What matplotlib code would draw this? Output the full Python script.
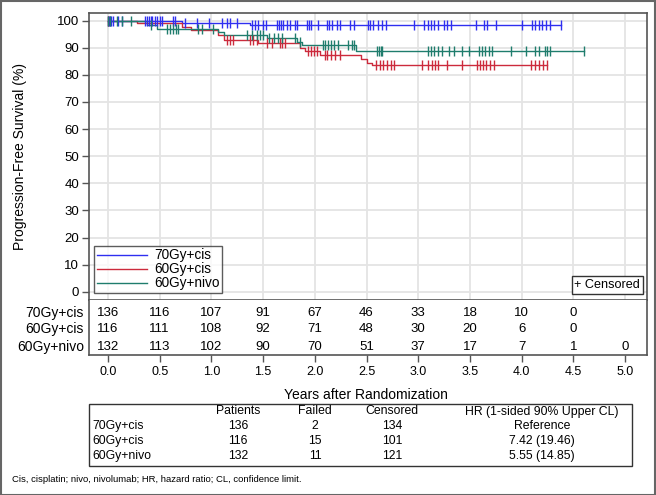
import numpy as np
import matplotlib
matplotlib.use("Agg")
import matplotlib.pyplot as plt
from matplotlib.lines import Line2D
from matplotlib.patches import Rectangle

plt.rcParams['font.family'] = ['Liberation Sans', 'DejaVu Sans']

# ---------------- data ----------------
arms = ["70Gy+cis", "60Gy+cis", "60Gy+nivo"]
colors = ["#2f2ff0", "#cc2a3c", "#1f7d6d"]

# KM step curves (years, % PFS)
t70 = [0, 0.72, 1.37]
s70 = [100, 99.2, 98.4]
end70 = 4.38
c70 = [0.00, 0.01, 0.02, 0.03, 0.05, 0.10, 0.14, 0.36, 0.38, 0.40, 0.42, 0.43, 0.45, 0.47,
       0.50, 0.52, 0.63, 0.65, 0.74, 0.86, 0.98, 1.10, 1.15, 1.18, 1.25, 1.39, 1.42, 1.45,
       1.50, 1.53, 1.63, 1.65, 1.67, 1.69, 1.73, 1.76, 1.81, 1.83, 1.92, 1.94, 1.96, 2.03,
       2.12, 2.14, 2.17, 2.21, 2.24, 2.34, 2.38, 2.51, 2.53, 2.56, 2.61, 2.65, 2.69, 2.96,
       3.06, 3.09, 3.12, 3.15, 3.19, 3.25, 3.28, 3.32, 3.56, 3.64, 3.67, 3.75, 4.00, 4.10,
       4.13, 4.17, 4.20, 4.24, 4.27, 4.38]

t60 = [0, 0.28, 0.72, 0.80, 1.06, 1.12, 1.45, 1.86, 1.91, 2.05, 2.45, 2.50, 2.55]
s60 = [100, 99.1, 97.5, 96.6, 94.8, 92.8, 91.8, 89.9, 89.0, 87.5, 86.0, 84.5, 83.6]
end60 = 4.25
c60 = [0.00, 1.15, 1.18, 1.21, 1.37, 1.40, 1.44, 1.54, 1.59, 1.66, 1.68, 1.71, 1.93, 1.96,
       1.99, 2.02, 2.10, 2.12, 2.16, 2.20, 2.24, 2.59, 2.63, 2.66, 2.70, 2.74, 2.77, 3.04,
       3.09, 3.13, 3.16, 3.19, 3.28, 3.42, 3.57, 3.60, 3.63, 3.66, 3.69, 3.73, 4.09, 4.13,
       4.17, 4.21, 4.25]

tnv = [0, 0.38, 0.47, 1.06, 1.12, 1.54, 1.83, 1.88, 2.40]
snv = [100, 98.5, 97.0, 95.9, 94.8, 93.5, 92.2, 91.0, 88.8]
endnv = 4.60
cnv = [0.00, 0.02, 0.09, 0.14, 0.22, 0.42, 0.57, 0.60, 0.63, 0.66, 0.68, 0.87, 0.91, 1.02,
       1.34, 1.39, 1.44, 1.47, 1.50, 1.56, 1.61, 1.64, 1.68, 1.81, 1.86, 2.08, 2.10, 2.13,
       2.16, 2.19, 2.22, 2.32, 2.36, 2.38, 2.60, 2.62, 2.64, 2.65, 3.09, 3.12, 3.15, 3.19,
       3.23, 3.30, 3.35, 3.42, 3.49, 3.59, 3.62, 3.65, 3.68, 3.71, 3.90, 4.04, 4.13, 4.17,
       4.23, 4.25, 4.27, 4.60]

# numbers at risk
risk_times = [0.0, 0.5, 1.0, 1.5, 2.0, 2.5, 3.0, 3.5, 4.0, 4.5, 5.0]
risk70 = [136, 116, 107, 91, 67, 46, 33, 18, 10, 0]
risk60 = [116, 111, 108, 92, 71, 48, 30, 20, 6, 0]
risknv = [132, 113, 102, 90, 70, 51, 37, 17, 7, 1, 0]

# summary table
tbl_header = ["Patients", "Failed", "Censored", "HR (1-sided 90% Upper CL)"]
tbl_patients = [136, 116, 132]
tbl_failed = [2, 15, 11]
tbl_censored = [134, 101, 121]
tbl_hr = ["Reference", "7.42 (19.46)", "5.55 (14.85)"]

footnote = "Cis, cisplatin; nivo, nivolumab; HR, hazard ratio; CL, confidence limit."

# ---------------- figure ----------------
W, H = 656, 495
fig = plt.figure(figsize=(W / 100, H / 100), dpi=100)

def fx(px):
    return px / W

def fy(py):
    return 1 - py / H

L, R, T, SEP, B = 89, 647, 13, 300, 355
ax = fig.add_axes([fx(L), fy(SEP), fx(R - L), (SEP - T) / H])
rax = fig.add_axes([fx(L), fy(B), fx(R - L), (B - SEP) / H], sharex=ax)

x0 = 108; xpy = 103.4
xmin = (L - x0) / xpy
xmax = (R - x0) / xpy
y100, y0 = 20.7, 291.7
ppp = (y0 - y100) / 100
ymax = 100 + (y100 - T) / ppp
ymin = -(SEP - y0) / ppp

spine_c = "#555555"
grid_c = "#e4e4e4"

ax.set_xlim(xmin, xmax)
ax.set_ylim(ymin, ymax)
ax.set_xticks(risk_times)
ax.set_yticks(np.arange(0, 101, 10))
ax.grid(True, color=grid_c, lw=1.3, zorder=0)
ax.set_axisbelow(True)
ax.tick_params(axis='x', length=0, labelbottom=False)
ax.tick_params(axis='y', length=5, width=1, color=spine_c, labelsize=9.5, pad=2)
for sp in ax.spines.values():
    sp.set_color(spine_c)
    sp.set_linewidth(1.2)

curves = [(t70, s70, end70, c70), (t60, s60, end60, c60), (tnv, snv, endnv, cnv)]
for (tt, ss, end, cc), col in zip(curves, colors):
    tt = np.array(tt, float); ss = np.array(ss, float)
    xs = np.append(tt, end)
    ys = np.append(ss, ss[-1])
    ax.step(xs, ys, where='post', color=col, lw=1.0, zorder=3)
    cc = np.array(cc)
    idx = np.searchsorted(tt, cc, side='right') - 1
    ax.plot(cc, ss[idx], ls='none', marker='|', ms=7, mew=1.0, color=col, zorder=4)

handles = [Line2D([0], [0], color=c, lw=1.0) for c in colors]
leg = ax.legend(handles, arms, loc='lower left', bbox_to_anchor=(0.009, 0.024),
                frameon=True, fancybox=False, edgecolor='#333333', fontsize=9.8,
                handlelength=3.7, handletextpad=0.5, borderpad=0.2, labelspacing=0.0,
                borderaxespad=0)
leg.get_frame().set_linewidth(1.0)

ax.text(1 - 7 / (R - L), 9 / (SEP - T), "+ Censored", transform=ax.transAxes,
        ha='right', va='bottom', fontsize=9.1,
        bbox=dict(boxstyle='square,pad=0.2', fc='white', ec='#333333', lw=1.0))

# risk table axis
rax.set_ylim(0, 1)
rax.set_yticks([])
rax.tick_params(axis='x', length=5, width=1, color=spine_c, labelsize=9, pad=3)
rax.set_xticks(risk_times)
rax.set_xticklabels([f"{v:.1f}" for v in risk_times])
for sp in rax.spines.values():
    sp.set_color(spine_c)
    sp.set_linewidth(1.2)
rax.spines['top'].set_visible(False)

row_y = [1 - (313 - SEP) / (B - SEP), 1 - (329.5 - SEP) / (B - SEP), 1 - (346.7 - SEP) / (B - SEP)]
for lab, vals, yy in zip(arms, [risk70, risk60, risknv], row_y):
    rax.text(-5 / (R - L), yy, lab, transform=rax.transAxes, ha='right', va='center', fontsize=10)
    for t, v in zip(risk_times, vals):
        rax.text(t, yy, str(v), ha='center', va='center', fontsize=9.5)

fig.text(fx(366), fy(395), "Years after Randomization", ha='center', va='center', fontsize=10)

# summary table
tx0, tx1, ty0, ty1 = 89, 632, 404, 466
fig.add_artist(Rectangle((fx(tx0), fy(ty1)), fx(tx1 - tx0), (ty1 - ty0) / H,
                         transform=fig.transFigure, fill=False, ec='#333333', lw=1.0))
col_x = [238, 315, 392, 542]
row_ty = [411.5, 426, 441, 456]
for cx, h in zip(col_x, tbl_header):
    fig.text(fx(cx), fy(row_ty[0]), h, ha='center', va='center', fontsize=8.8)
for i, lab in enumerate(arms):
    yy = fy(row_ty[i + 1])
    fig.text(fx(92), yy, lab, ha='left', va='center', fontsize=8.8)
    vals = [str(tbl_patients[i]), str(tbl_failed[i]), str(tbl_censored[i]), tbl_hr[i]]
    for cx, v in zip(col_x, vals):
        fig.text(fx(cx), yy, v, ha='center', va='center', fontsize=8.8)

fig.text(fx(12), fy(479), footnote, ha='left', va='center', fontsize=6.8)

fig.text(fx(20), fy(156), "Progression-Free Survival (%)", rotation=90,
         ha='center', va='center', fontsize=10)

fig.add_artist(Rectangle((0.001, 0.001), 0.997, 0.997, transform=fig.transFigure,
                         fill=False, ec='#666666', lw=1.5))

fig.savefig("out.png", dpi=100)
